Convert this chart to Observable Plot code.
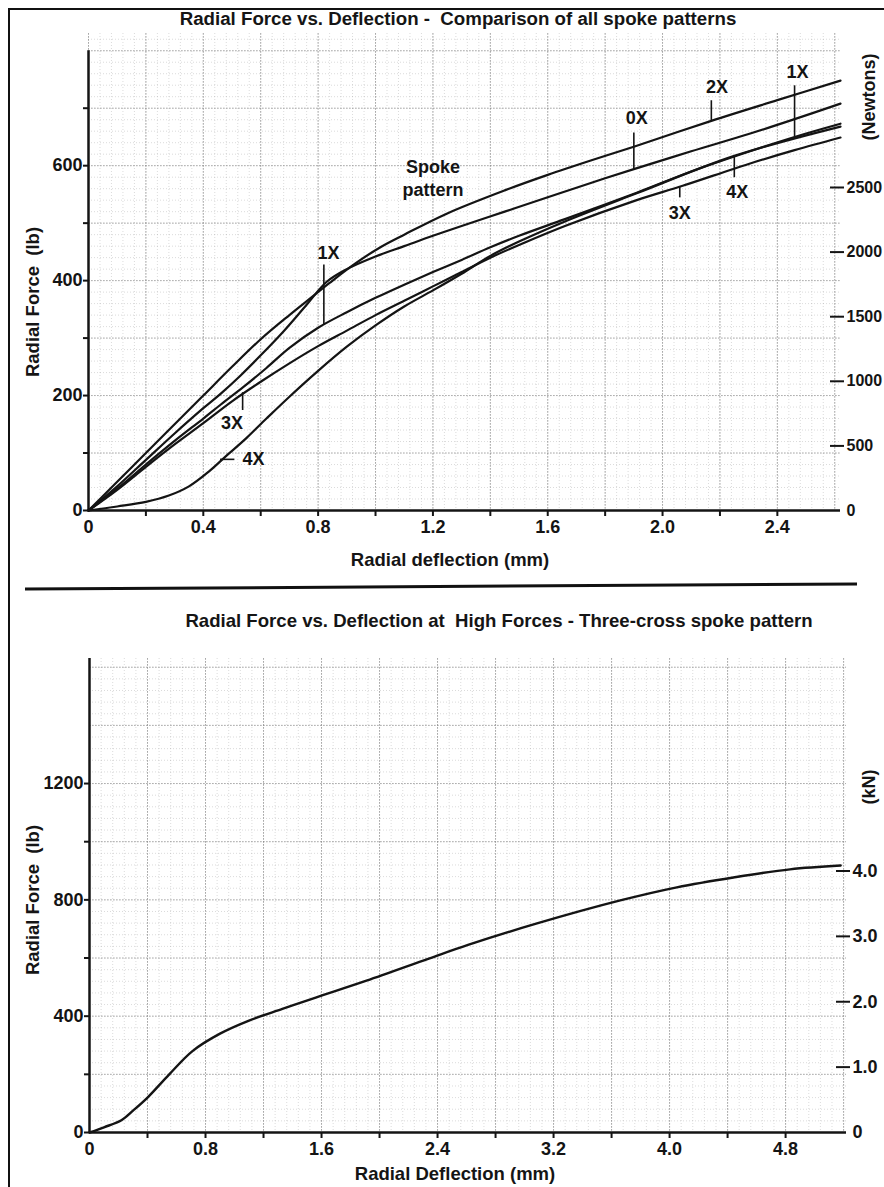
<!DOCTYPE html>
<html><head><meta charset="utf-8">
<script src="https://cdn.jsdelivr.net/npm/d3@7"></script>
<script src="https://cdn.jsdelivr.net/npm/@observablehq/plot@0.6"></script>
<style>
html,body{margin:0;padding:0;background:#fff;}
#page{position:relative;width:884px;height:1187px;overflow:hidden;font-family:"Liberation Sans",Arial,Helvetica,sans-serif;font-weight:bold;color:#151515;}
.t{position:absolute;white-space:nowrap;transform:translate(-50%,-50%);}
.r{transform:translate(-50%,-50%) rotate(-90deg);}
.plot{position:absolute;left:0;}
#frameL{position:absolute;left:8px;top:8px;width:2px;height:1179px;background:#111;}
#frameT{position:absolute;left:8px;top:8px;width:876px;height:2px;background:#111;}
#sep{position:absolute;left:25px;top:585px;width:832px;height:3px;background:#111;transform:rotate(-0.35deg);}
</style></head>
<body><div id="page">
<div id="frameL"></div><div id="frameT"></div><div id="sep"></div>
<div class="t" style="left:458px;top:19px;font-size:18.7px">Radial Force vs. Deflection -&nbsp; Comparison of all spoke patterns</div>
<div class="t" style="left:499px;top:621px;font-size:18.6px">Radial Force vs. Deflection at&nbsp; High Forces - Three-cross spoke pattern</div>
<div class="t r" style="left:33px;top:302px;font-size:18.5px">Radial Force&nbsp; (lb)</div>
<div class="t r" style="left:33px;top:900px;font-size:18.5px">Radial Force&nbsp; (lb)</div>
<div class="t" style="left:450px;top:560px;font-size:18.5px">Radial deflection (mm)</div>
<div class="t" style="left:455px;top:1174px;font-size:18.5px">Radial Deflection (mm)</div>
<div class="t r" style="left:869px;top:97px;font-size:18px">(Newtons)</div>
<div class="t r" style="left:869px;top:787px;font-size:18px">(kN)</div>
<div id="top" class="plot" style="top:0px"></div>
<div id="bot" class="plot" style="top:600px"></div>
</div>
<script>
// ---- Top chart data: radial deflection (mm) vs radial force (lb) ----
const x0X = [0, 0.1, 0.2, 0.3, 0.4, 0.46, 0.53, 0.6, 0.68, 0.76, 0.83, 0.9, 1.0, 1.1, 1.2, 1.3, 1.45, 1.6, 1.75, 1.9, 2.1, 2.3, 2.46, 2.62];
const y0X = [0, 42, 88, 134, 178, 203, 235, 270, 312, 358, 398, 420, 442, 460, 478, 495, 520, 545, 570, 594, 625, 655, 681, 708];
const x1X = [0, 0.1, 0.2, 0.3, 0.4, 0.46, 0.54, 0.62, 0.7, 0.8, 0.9, 1.0, 1.1, 1.2, 1.3, 1.4, 1.5, 1.66, 1.91, 2.1, 2.25, 2.46, 2.62];
const y1X = [0, 38, 80, 121, 160, 184, 215, 248, 283, 318, 345, 370, 393, 415, 436, 458, 478, 507, 553, 590, 616, 650, 673];
const x2X = [0, 0.1, 0.2, 0.3, 0.4, 0.5, 0.6, 0.7, 0.78, 0.84, 0.93, 1.02, 1.1, 1.25, 1.45, 1.6, 1.75, 1.9, 2.17, 2.4, 2.62];
const y2X = [0, 50, 100, 150, 200, 250, 298, 340, 372, 396, 430, 459, 480, 517, 557, 584, 609, 633, 678, 714, 748];
const x3X = [0, 0.1, 0.2, 0.3, 0.4, 0.5, 0.6, 0.7, 0.8, 0.9, 1.0, 1.1, 1.2, 1.3, 1.4, 1.5, 1.66, 1.91, 2.07, 2.3, 2.46, 2.62];
const y3X = [0, 36, 76, 115, 152, 190, 224, 256, 286, 313, 340, 365, 390, 415, 440, 462, 495, 540, 565, 603, 627, 649];
const x4X = [0, 0.1, 0.2, 0.28, 0.35, 0.42, 0.48, 0.55, 0.62, 0.7, 0.8, 0.9, 1.0, 1.1, 1.2, 1.3, 1.4, 1.5, 1.66, 1.91, 2.25, 2.62];
const y4X = [0, 7, 15, 26, 42, 68, 95, 126, 160, 198, 243, 285, 322, 355, 383, 412, 443, 468, 503, 552, 617, 668];
const patterns = ["0X", "1X", "2X", "3X", "4X"];
const seriesX = [x0X, x1X, x2X, x3X, x4X];
const seriesY = [y0X, y1X, y2X, y3X, y4X];

const topXTicks = [0, 0.4, 0.8, 1.2, 1.6, 2.0, 2.4];
const topXLabels = ["0", "0.4", "0.8", "1.2", "1.6", "2.0", "2.4"];
const topYTicks = [0, 200, 400, 600];
const topYMinor = [100, 300, 500, 700];
const newtonTicks = [0, 500, 1000, 1500, 2000, 2500];

// Pattern labels with leader lines (mm, lb)
const topLabels = [
  {t: "1X", x: 0.836, y: 447}, {t: "3X", x: 0.50, y: 151}, {t: "4X", x: 0.575, y: 89},
  {t: "0X", x: 1.91, y: 682}, {t: "2X", x: 2.19, y: 737}, {t: "1X", x: 2.47, y: 762},
  {t: "3X", x: 2.06, y: 517}, {t: "4X", x: 2.26, y: 553},
  {t: "Spoke", x: 1.20, y: 597}, {t: "pattern", x: 1.20, y: 558}
];
const leadersV = [
  {x: 0.82, y1: 427, y2: 322}, {x: 0.537, y1: 205, y2: 174},
  {x: 1.90, y1: 657, y2: 594}, {x: 2.17, y1: 713, y2: 678}, {x: 2.46, y1: 739, y2: 650},
  {x: 2.06, y1: 562, y2: 544}, {x: 2.25, y1: 617, y2: 579}
];
const leadersH = [{y: 89, x1: 0.46, x2: 0.51}];

// ---- Bottom chart data: three-cross at high forces ----
const hfX = [0, 0.1, 0.22, 0.3, 0.4, 0.55, 0.71, 0.9, 1.1, 1.33, 1.56, 1.91, 2.34, 2.61, 3.08, 3.66, 4.05, 4.44, 4.83, 5.18];
const hfY = [0, 18, 42, 75, 120, 200, 280, 340, 385, 425, 464, 522, 598, 645, 718, 798, 843, 877, 905, 918];
const botXTicks = [0, 0.8, 1.6, 2.4, 3.2, 4.0, 4.8];
const botXLabels = ["0", "0.8", "1.6", "2.4", "3.2", "4.0", "4.8"];
const botYTicks = [0, 400, 800, 1200];
const botYMinor = [200, 600, 1000];
const kNTicks = [0, 1, 2, 3, 4];
const kNLabels = ["0", "1.0", "2.0", "3.0", "4.0"];

const LB_PER_N = 1 / 4.448;
const ink = "#141414";
const fontStyle = {fontFamily: '"Liberation Sans",Arial,Helvetica,sans-serif', fontWeight: "bold", fontSize: "18px", color: ink, background: "transparent", overflow: "visible"};

const topData = patterns.flatMap((p, i) => seriesX[i].map((x, j) => ({s: p, x, y: seriesY[i][j]})));
const hfData = hfX.map((x, j) => ({x, y: hfY[j]}));

function paper(xmax, ymax, xCell, yCell) {
  return [
    Plot.gridX({ticks: d3.range(0, xmax, xCell), stroke: "#888", strokeOpacity: 0.3, strokeDasharray: "1,2"}),
    Plot.gridY({ticks: d3.range(0, ymax, yCell), stroke: "#888", strokeOpacity: 0.3, strokeDasharray: "1,2"}),
    Plot.gridX({ticks: d3.range(0, xmax, xCell * 5), stroke: "#777", strokeOpacity: 0.5, strokeDasharray: "2,1"}),
    Plot.gridY({ticks: d3.range(0, ymax, yCell * 5), stroke: "#777", strokeOpacity: 0.45, strokeDasharray: "2,1"})
  ];
}

const topPlot = Plot.plot({
  width: 884, height: 590,
  marginLeft: 88, marginRight: 44, marginTop: 33, marginBottom: 80,
  x: {domain: [0, 2.62]},
  y: {domain: [0, 830]},
  style: fontStyle,
  marks: [
    ...paper(2.62, 830, 0.04, 20),
    Plot.axisX({ticks: topXTicks, tickSize: 0, tickPadding: 10, tickFormat: d => topXLabels[topXTicks.indexOf(d)], label: null, fontSize: 18}),
    Plot.axisX({ticks: d3.range(0.2, 2.6, 0.2), tickSize: 6, tickFormat: () => "", label: null, strokeWidth: 2}),
    Plot.axisY({ticks: topYTicks, tickSize: 5, tickPadding: 1, tickFormat: d => String(d), label: null, strokeWidth: 2, fontSize: 18}),
    Plot.axisY({ticks: topYMinor, tickSize: 5, tickFormat: () => "", label: null, strokeWidth: 2}),
    Plot.axisY({anchor: "right", ticks: newtonTicks.filter(n => n > 0).map(n => n * LB_PER_N), tickSize: 14, dx: -11, tickFormat: () => "", label: null, strokeWidth: 2}),
    Plot.axisY({anchor: "right", ticks: newtonTicks.map(n => n * LB_PER_N), tickSize: 0, tickPadding: 6, tickFormat: d => String(Math.round(d / LB_PER_N)), label: null, fontSize: 16}),
    Plot.ruleY([0], {stroke: ink, strokeWidth: 2.5}),
    Plot.ruleX([{x: 0, y1: 0, y2: 800}], {x: "x", y1: "y1", y2: "y2", stroke: ink, strokeWidth: 2.5}),
    Plot.line(topData, {x: "x", y: "y", z: "s", curve: "catmull-rom", stroke: ink, strokeWidth: 2.2}),
    Plot.ruleX(leadersV, {x: "x", y1: "y1", y2: "y2", stroke: ink, strokeWidth: 1.6}),
    Plot.ruleY(leadersH, {y: "y", x1: "x1", x2: "x2", stroke: ink, strokeWidth: 1.6}),
    Plot.text(topLabels, {x: "x", y: "y", text: "t", fill: ink, fontSize: 18, fontWeight: "bold"})
  ]
});
document.getElementById("top").appendChild(topPlot);

const botPlot = Plot.plot({
  width: 884, height: 587,
  marginLeft: 89, marginRight: 38, marginTop: 58, marginBottom: 55,
  x: {domain: [0, 5.22]},
  y: {domain: [0, 1630]},
  style: fontStyle,
  marks: [
    ...paper(5.22, 1630, 0.08, 40),
    Plot.axisX({ticks: botXTicks, tickSize: 0, tickPadding: 10, tickFormat: d => botXLabels[botXTicks.indexOf(d)], label: null, fontSize: 18}),
    Plot.axisX({ticks: d3.range(0.4, 5.2, 0.4), tickSize: 6, tickFormat: () => "", label: null, strokeWidth: 2}),
    Plot.axisY({ticks: botYTicks, tickSize: 5, tickPadding: 1, tickFormat: d => String(d), label: null, strokeWidth: 2, fontSize: 18}),
    Plot.axisY({ticks: botYMinor, tickSize: 5, tickFormat: () => "", label: null, strokeWidth: 2}),
    Plot.axisY({anchor: "right", ticks: kNTicks.filter(k => k > 0).map(k => k * 1000 * LB_PER_N), tickSize: 14, dx: -11, tickFormat: () => "", label: null, strokeWidth: 2}),
    Plot.axisY({anchor: "right", ticks: kNTicks.map(k => k * 1000 * LB_PER_N), tickSize: 0, tickPadding: 6, tickFormat: d => kNLabels[Math.round(d / LB_PER_N / 1000)], label: null, fontSize: 18}),
    Plot.ruleY([0], {stroke: ink, strokeWidth: 2.5}),
    Plot.ruleX([{x: 0, y1: 0, y2: 1630}], {x: "x", y1: "y1", y2: "y2", stroke: ink, strokeWidth: 2.5}),
    Plot.line(hfData, {x: "x", y: "y", curve: "catmull-rom", stroke: ink, strokeWidth: 2.4})
  ]
});
document.getElementById("bot").appendChild(botPlot);
</script>
</body></html>
